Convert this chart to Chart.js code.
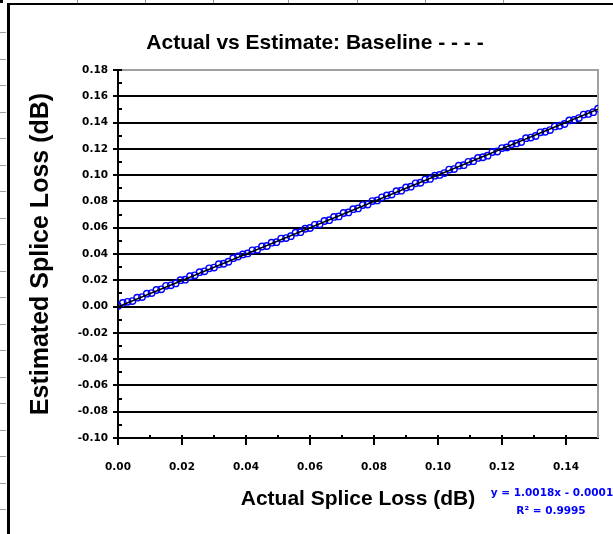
<!DOCTYPE html>
<html>
<head>
<meta charset="utf-8">
<title>Actual vs Estimate: Baseline</title>
<script src="https://cdn.jsdelivr.net/npm/chart.js@4.4.1/dist/chart.umd.min.js"></script>
<style>
  html, body { margin: 0; padding: 0; background: #fff; }
  #wrap { width: 613px; height: 534px; position: relative; }
</style>
</head>
<body>
<div id="wrap"><canvas id="c" width="613" height="534"></canvas></div>
<script>
// Measured splice loss (dB)
const actualLoss = [
  0.0000, 0.0015, 0.0030, 0.0045, 0.0060, 0.0075, 0.0090, 0.0105, 0.0120, 0.0135,
  0.0150, 0.0165, 0.0180, 0.0195, 0.0210, 0.0225, 0.0240, 0.0255, 0.0270, 0.0285,
  0.0300, 0.0315, 0.0330, 0.0345, 0.0360, 0.0375, 0.0390, 0.0405, 0.0420, 0.0435,
  0.0450, 0.0465, 0.0480, 0.0495, 0.0510, 0.0525, 0.0540, 0.0555, 0.0570, 0.0585,
  0.0600, 0.0615, 0.0630, 0.0645, 0.0660, 0.0675, 0.0690, 0.0705, 0.0720, 0.0735,
  0.0750, 0.0765, 0.0780, 0.0795, 0.0810, 0.0825, 0.0840, 0.0855, 0.0870, 0.0885,
  0.0900, 0.0915, 0.0930, 0.0945, 0.0960, 0.0975, 0.0990, 0.1005, 0.1020, 0.1035,
  0.1050, 0.1065, 0.1080, 0.1095, 0.1110, 0.1125, 0.1140, 0.1155, 0.1170, 0.1185,
  0.1200, 0.1215, 0.1230, 0.1245, 0.1260, 0.1275, 0.1290, 0.1305, 0.1320, 0.1335,
  0.1350, 0.1365, 0.1380, 0.1395, 0.1410, 0.1425, 0.1440, 0.1455, 0.1470, 0.1485, 0.1500
];

// Estimated splice loss (dB)
const estimatedLoss = [
  0.0005, 0.0028, 0.0036, 0.0042, 0.0068, 0.0072, 0.0098, 0.0103, 0.0126, 0.0131,
  0.0158, 0.0162, 0.0176, 0.0201, 0.0205, 0.0231, 0.0238, 0.0262, 0.0268, 0.0291,
  0.0297, 0.0322, 0.0326, 0.0341, 0.0368, 0.0381, 0.0397, 0.0404, 0.0428, 0.0432,
  0.0457, 0.0461, 0.0486, 0.0490, 0.0517, 0.0521, 0.0536, 0.0562, 0.0566, 0.0592,
  0.0598, 0.0622, 0.0626, 0.0651, 0.0657, 0.0682, 0.0686, 0.0712, 0.0716, 0.0741,
  0.0747, 0.0772, 0.0776, 0.0803, 0.0808, 0.0831, 0.0846, 0.0852, 0.0878, 0.0882,
  0.0906, 0.0912, 0.0938, 0.0942, 0.0966, 0.0971, 0.0996, 0.1002, 0.1016, 0.1042,
  0.1046, 0.1072, 0.1076, 0.1101, 0.1106, 0.1131, 0.1136, 0.1148, 0.1176, 0.1180,
  0.1206, 0.1211, 0.1236, 0.1241, 0.1252, 0.1281, 0.1286, 0.1298, 0.1326, 0.1330,
  0.1343, 0.1371, 0.1376, 0.1389, 0.1416, 0.1420, 0.1434, 0.1461, 0.1466, 0.1479, 0.1506
];

// Linear trendline fitted to the data
const slope = 1.0018;
const intercept = -0.0001;
const rSquared = 0.9995;

// Axis ticks
const xTicks = [0.00, 0.02, 0.04, 0.06, 0.08, 0.10, 0.12, 0.14];
const yTicks = [-0.10, -0.08, -0.06, -0.04, -0.02, 0.00, 0.02, 0.04, 0.06, 0.08, 0.10, 0.12, 0.14, 0.16, 0.18];
const xMinorTicks = [0.01, 0.03, 0.05, 0.07, 0.09, 0.11, 0.13];
const yMinorTicks = [-0.09, -0.07, -0.05, -0.03, -0.01, 0.01, 0.03, 0.05, 0.07, 0.09, 0.11, 0.13, 0.15, 0.17];
const xRange = [0, 0.15];
const yRange = [-0.10, 0.18];

const chartTitle = 'Actual vs Estimate: Baseline - - - -';
const xTitle = 'Actual Splice Loss (dB)';
const yTitle = 'Estimated Splice Loss (dB)';

const points = actualLoss.map((x, i) => ({ x: x, y: estimatedLoss[i] }));
const trend = [xRange[0], xRange[1]].map(x => ({ x: x, y: slope * x + intercept }));

const fmt = v => (Math.abs(v) < 1e-9 ? 0 : v).toFixed(2);
const tickFont = { family: 'DejaVu Sans', weight: 'bold', size: 10.5 };

// Sheet frame, plot border, tick marks, title and regression label
const decor = {
  id: 'decor',
  beforeDraw(chart) {
    const ctx = chart.ctx;
    ctx.save();
    ctx.fillStyle = '#fff';
    ctx.fillRect(0, 0, chart.width, chart.height);
    // faint worksheet cell dividers
    ctx.strokeStyle = '#9a9a9a';
    ctx.lineWidth = 1;
    [77, 145, 213, 288, 357, 425, 503].forEach(x => {
      ctx.beginPath(); ctx.moveTo(x + 0.5, 0); ctx.lineTo(x + 0.5, 3); ctx.stroke();
    });
    for (let y = 32; y < chart.height; y += 26.5) {
      ctx.beginPath(); ctx.moveTo(0, Math.round(y) + 0.5); ctx.lineTo(6, Math.round(y) + 0.5); ctx.stroke();
    }
    ctx.fillStyle = '#000';
    ctx.fillRect(0, 0, 3, 3);
    // chart object frame
    ctx.fillRect(7, 3, chart.width - 7, 2);
    ctx.fillRect(7, 3, 3, chart.height - 3);
    ctx.restore();
  },
  beforeDatasetsDraw(chart) {
    const ctx = chart.ctx;
    const a = chart.chartArea;
    ctx.save();
    ctx.fillStyle = '#a0a0a0';
    ctx.fillRect(a.right - 1, a.top - 1, 2, a.bottom - a.top + 1);
    ctx.restore();
  },
  afterDraw(chart) {
    const ctx = chart.ctx;
    const xs = chart.scales.x, ys = chart.scales.y;
    const a = chart.chartArea;
    ctx.save();
    ctx.fillStyle = '#000';
    // y axis ticks: major crossing, minor inside
    yTicks.forEach(v => {
      const y = Math.round(ys.getPixelForValue(v));
      ctx.fillRect(a.left - 5, y - 1, 9, 2);
    });
    yMinorTicks.forEach(v => {
      const y = Math.round(ys.getPixelForValue(v));
      ctx.fillRect(a.left, y - 1, 4, 2);
    });
    // x axis ticks
    xTicks.forEach(v => {
      const x = Math.round(xs.getPixelForValue(v));
      ctx.fillRect(x - 1, a.bottom - 3, 2, 10);
    });
    xMinorTicks.forEach(v => {
      const x = Math.round(xs.getPixelForValue(v));
      ctx.fillRect(x - 1, a.bottom - 3, 2, 3);
    });
    // chart title
    ctx.fillStyle = '#000';
    ctx.font = 'bold 21px "Liberation Sans", Arial, sans-serif';
    ctx.textAlign = 'center';
    ctx.textBaseline = 'middle';
    ctx.fillText(chartTitle, 315, 43);
    // regression equation
    ctx.fillStyle = '#0000ff';
    ctx.font = 'bold 10.5px "DejaVu Sans", sans-serif';
    ctx.fillText('y = ' + slope.toFixed(4) + 'x - ' + Math.abs(intercept).toFixed(4), 552, 493);
    ctx.fillText('R² = ' + rSquared.toFixed(4), 551, 511);
    ctx.restore();
  }
};

new Chart(document.getElementById('c'), {
  data: {
    datasets: [
      {
        type: 'line',
        data: trend,
        borderColor: '#000',
        borderWidth: 1.5,
        pointRadius: 0,
        fill: false,
        order: 0
      },
      {
        type: 'scatter',
        data: points,
        pointStyle: 'circle',
        pointRadius: 3.2,
        pointBorderWidth: 1.4,
        borderColor: '#0000ff',
        backgroundColor: 'rgba(255,255,255,0)',
        order: 1
      }
    ]
  },
  options: {
    responsive: false,
    animation: false,
    events: [],
    layout: { padding: { top: 70, right: 15, left: 0, bottom: 0 } },
    plugins: {
      legend: { display: false },
      tooltip: { enabled: false },
      title: { display: false }
    },
    scales: {
      x: {
        type: 'linear',
        min: xRange[0],
        max: xRange[1],
        afterBuildTicks: s => { s.ticks = xTicks.map(v => ({ value: v })); },
        afterFit: s => { s.height = 96; },
        ticks: {
          font: tickFont,
          color: '#000',
          padding: 23,
          maxRotation: 0,
          autoSkip: false,
          callback: v => fmt(v)
        },
        grid: { display: false, drawTicks: false },
        border: { display: true, color: '#000', width: 2 },
        title: {
          display: true,
          text: xTitle,
          color: '#000',
          font: { family: 'Liberation Sans', weight: 'bold', size: 21 },
          padding: { top: 0, bottom: 22 }
        }
      },
      y: {
        type: 'linear',
        min: yRange[0],
        max: yRange[1],
        afterBuildTicks: s => { s.ticks = yTicks.map(v => ({ value: v })); },
        afterFit: s => { s.width = 118; },
        ticks: {
          font: tickFont,
          color: '#000',
          padding: 10,
          autoSkip: false,
          callback: v => fmt(v)
        },
        grid: {
          drawTicks: false,
          lineWidth: 2,
          color: c => (c.tick && Math.abs(c.tick.value - yRange[1]) < 1e-9) ? '#a0a0a0' : '#000'
        },
        border: { display: true, color: '#000', width: 2 },
        title: {
          display: true,
          text: yTitle,
          color: '#000',
          font: { family: 'Liberation Sans', weight: 'bold', size: 25 },
          padding: { top: 26, bottom: 0 }
        }
      }
    }
  },
  plugins: [decor]
});
</script>
</body>
</html>
